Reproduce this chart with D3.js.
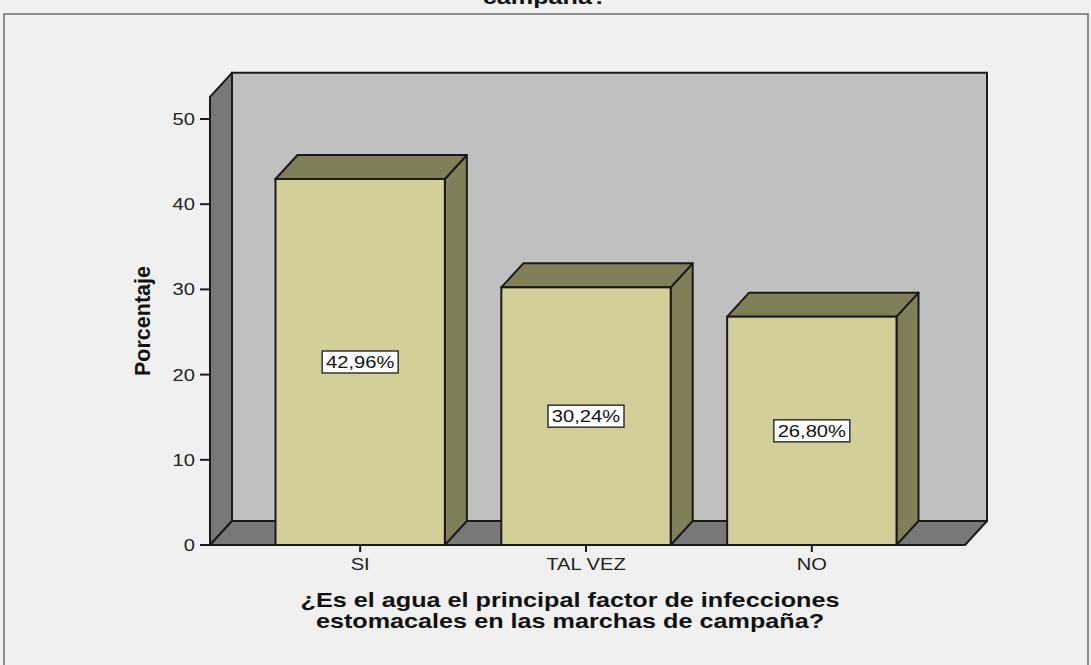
<!DOCTYPE html>
<html lang="es">
<head>
  <meta charset="UTF-8">
  <title>Porcentaje por respuesta</title>
  <style>
    body, html { margin: 0; padding: 0; background: #f0f0f0; }
    svg { display: block; }
    text { font-family: 'Liberation Sans', Arial, sans-serif; }
  </style>
</head>
<body>
  <svg id="svg" width="1091" height="665"></svg>
  <script src="https://d3js.org/d3.v7.min.js"></script>
  <script>
    // data
    const categories = ['SI', 'TAL VEZ', 'NO']
    const percentages = [42.96, 30.24, 26.80]
    const pctLabels = ['42,96%', '30,24%', '26,80%']
    const yTicks = [0, 10, 20, 30, 40, 50]

    const depthX = 22
    const depthY = 24
    const outline = '#1a1a1a'
    const wide = 1.26 // the source chart's lettering is drawn wider than Arial

    const svg = d3.select('#svg')

    // place a text at (px, py) stretched horizontally
    const at = (px, py) => `translate(${px},${py}) scale(${wide},1)`

    // outer frame
    svg.append('rect')
      .attr('x', 4).attr('y', 14)
      .attr('width', 1084).attr('height', 660)
      .attr('fill', '#f0f0f0')
      .attr('stroke', '#6e6e6e')
      .attr('stroke-width', 1.5)

    // last line of the title (rest is above the picture)
    svg.append('text')
      .attr('transform', at(545, 4))
      .attr('text-anchor', 'middle')
      .attr('font-weight', 'bold')
      .attr('font-size', 20)
      .attr('fill', '#111')
      .text('campaña?')

    const y = d3.scaleLinear().domain([0, 50]).range([545, 119])
    const x = d3.scaleBand()
      .domain(categories)
      .range([210, 962])
      .paddingInner(0.25)
      .paddingOuter(0.29)

    const x0 = 210, x1 = 965
    const yBase = y(0)
    const yTop = y(52.6)

    // back wall
    svg.append('polygon')
      .attr('points', [[x0 + depthX, yTop - depthY], [x1 + depthX, yTop - depthY], [x1 + depthX, yBase - depthY], [x0 + depthX, yBase - depthY]].join(' '))
      .attr('fill', '#c0c0c0').attr('stroke', outline).attr('stroke-width', 2)

    // left wall
    svg.append('polygon')
      .attr('points', [[x0, yTop], [x0 + depthX, yTop - depthY], [x0 + depthX, yBase - depthY], [x0, yBase]].join(' '))
      .attr('fill', '#787878').attr('stroke', outline).attr('stroke-width', 2).attr('stroke-linejoin', 'round')

    // floor
    svg.append('polygon')
      .attr('points', [[x0, yBase], [x0 + depthX, yBase - depthY], [x1 + depthX, yBase - depthY], [x1, yBase]].join(' '))
      .attr('fill', '#787878').attr('stroke', outline).attr('stroke-width', 2).attr('stroke-linejoin', 'round')

    const data = categories.map((c, i) => ({ cat: c, value: percentages[i], label: pctLabels[i] }))
    const bw = x.bandwidth()

    const bars = svg.append('g')
      .selectAll('g')
      .data(data)
      .enter()
      .append('g')

    // side face
    bars.append('polygon')
      .attr('points', d => {
        const xr = x(d.cat) + bw, yt = y(d.value)
        return [[xr, yt], [xr + depthX, yt - depthY], [xr + depthX, yBase - depthY], [xr, yBase]].join(' ')
      })
      .attr('fill', '#817f5a').attr('stroke', outline).attr('stroke-width', 2).attr('stroke-linejoin', 'round')

    // top face
    bars.append('polygon')
      .attr('points', d => {
        const xl = x(d.cat), yt = y(d.value)
        return [[xl, yt], [xl + depthX, yt - depthY], [xl + bw + depthX, yt - depthY], [xl + bw, yt]].join(' ')
      })
      .attr('fill', '#817f5a').attr('stroke', outline).attr('stroke-width', 2).attr('stroke-linejoin', 'round')

    // front face
    bars.append('rect')
      .attr('x', d => x(d.cat))
      .attr('y', d => y(d.value))
      .attr('width', bw)
      .attr('height', d => yBase - y(d.value))
      .attr('fill', '#d3cf98').attr('stroke', outline).attr('stroke-width', 2)

    // value labels in boxes
    bars.each(function (d) {
      const g = d3.select(this)
      const cx = x(d.cat) + bw / 2
      const cy = (y(d.value) + yBase) / 2
      g.append('rect')
        .attr('x', cx - 38).attr('y', cy - 11)
        .attr('width', 76).attr('height', 22)
        .attr('fill', '#fff').attr('stroke', '#333').attr('stroke-width', 1.5)
      g.append('text')
        .attr('transform', at(cx, cy + 6))
        .attr('text-anchor', 'middle')
        .attr('font-size', 16)
        .attr('fill', '#111')
        .text(d.label)
    })

    // y axis
    const yAxis = svg.append('g')
    yAxis.append('line')
      .attr('x1', x0).attr('x2', x0).attr('y1', yTop).attr('y2', yBase)
      .attr('stroke', outline).attr('stroke-width', 2)
    yAxis.selectAll('line.tick')
      .data(yTicks)
      .enter()
      .append('line')
      .attr('class', 'tick')
      .attr('x1', x0 - 10).attr('x2', x0)
      .attr('y1', d => y(d)).attr('y2', d => y(d))
      .attr('stroke', outline).attr('stroke-width', 2)
    yAxis.selectAll('text')
      .data(yTicks)
      .enter()
      .append('text')
      .attr('transform', d => at(x0 - 15, y(d) + 6))
      .attr('text-anchor', 'end')
      .attr('font-size', 16)
      .attr('fill', '#222')
      .text(d => d)

    // x axis
    const xAxis = svg.append('g')
    xAxis.append('line')
      .attr('x1', x0).attr('x2', x1).attr('y1', yBase).attr('y2', yBase)
      .attr('stroke', outline).attr('stroke-width', 2)
    xAxis.selectAll('line.tick')
      .data(categories)
      .enter()
      .append('line')
      .attr('class', 'tick')
      .attr('x1', d => x(d) + bw / 2).attr('x2', d => x(d) + bw / 2)
      .attr('y1', yBase).attr('y2', yBase + 7)
      .attr('stroke', outline).attr('stroke-width', 2)
    xAxis.selectAll('text')
      .data(categories)
      .enter()
      .append('text')
      .attr('transform', d => at(x(d) + bw / 2, yBase + 25))
      .attr('text-anchor', 'middle')
      .attr('font-size', 16)
      .attr('fill', '#222')
      .text(d => d)

    // axis titles
    svg.append('text')
      .attr('transform', 'translate(150, 321) rotate(-90)')
      .attr('text-anchor', 'middle')
      .attr('font-weight', 'bold')
      .attr('font-size', 21.5)
      .attr('fill', '#111')
      .text('Porcentaje')

    const xTitle = svg.append('text')
      .attr('transform', at(570, 0))
      .attr('text-anchor', 'middle')
      .attr('font-weight', 'bold')
      .attr('font-size', 20)
      .attr('fill', '#111')
    xTitle.append('tspan').attr('x', 0).attr('y', 607).text('¿Es el agua el principal factor de infecciones')
    xTitle.append('tspan').attr('x', 0).attr('y', 628).text('estomacales en las marchas de campaña?')
  </script>
</body>
</html>
